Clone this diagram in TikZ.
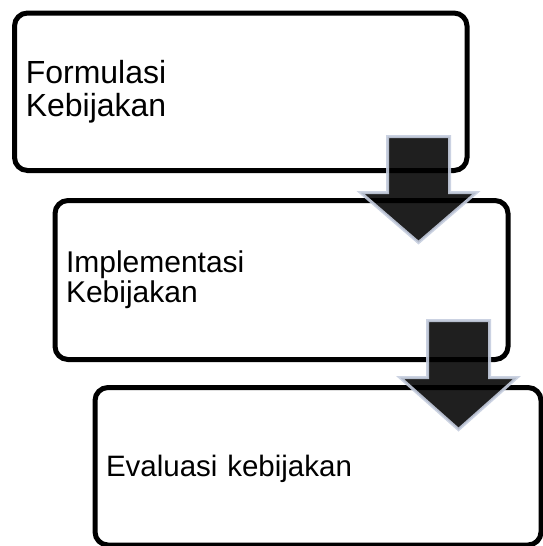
\documentclass[tikz,border=0pt]{standalone}
\usepackage{fontspec}
\setmainfont{Liberation Sans}
\usetikzlibrary{calc}
\definecolor{Ink}{HTML}{000000}
\definecolor{Frost}{HTML}{C6CEDF}

\begin{document}
\begin{tikzpicture}[
  x=1pt,y=-1pt,
  stage/.style={draw=Ink,line width=5pt,rounded corners=13pt,fill=white,
    inner xsep=11pt,inner ysep=0pt,align=left},
  blockarr/.style={fill=Ink,fill opacity=.88,draw=Frost,draw opacity=.9,
    line width=3pt,line join=miter}
]
\useasboundingbox (0,0) rectangle (542,546);
\node[stage,minimum width=452.5pt,minimum height=157.5pt,text width=430pt,
  font=\fontsize{32}{33}\selectfont]
  (formulasi) at (240.75,91.75) {Formulasi\\Kebijakan};
\node[stage,minimum width=453pt,minimum height=159pt,text width=431pt,
  font=\fontsize{30}{30}\selectfont]
  (implementasi) at (281.5,280) {Implementasi\\Kebijakan};
\node[stage,minimum width=446pt,minimum height=157.5pt,text width=424pt,
  font=\fontsize{29.5}{30}\selectfont,text height=24pt,text depth=3pt]
  (evaluasi) at (318,466.25) {Evaluasi kebijakan};
% block arrows hang from the lower box edge into the next box
\coordinate (tail1) at ($(formulasi.south east)+(-51,-36.5)$);
\coordinate (tail2) at ($(implementasi.south east)+(-52,-41.5)$);
\draw[blockarr,shift={(tail1)}] (-31,0) -- (31,0) -- (31,56) -- (58,56)
  -- (0,106) -- (-58,56) -- (-31,56) -- cycle;
\draw[blockarr,shift={(tail2)}] (-31,0) -- (31,0) -- (31,57) -- (58.5,57)
  -- (0,109) -- (-58.5,57) -- (-31,57) -- cycle;
\end{tikzpicture}
\end{document}
